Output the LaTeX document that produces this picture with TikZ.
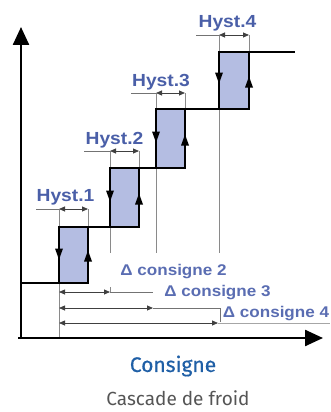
\documentclass[tikz,border=0pt]{standalone}
\usepackage{fontspec}
\usetikzlibrary{arrows.meta}
\newfontfamily\diagf{Liberation Sans}
\newfontfamily\capf{Fira Sans}
\newfontfamily\capfb{Fira Sans}[FakeBold=0.6]
\definecolor{boxfill}{HTML}{B4BDE2}
\definecolor{hystblue}{HTML}{4A5FA8}
\definecolor{deltablue}{HTML}{5A6DB2}
\definecolor{titleblue}{HTML}{1F5FA6}
\definecolor{capgray}{HTML}{555555}
\definecolor{extgray}{HTML}{8A8A8A}
\newcommand\downtri[2]{\fill ({#1-4},{#2-5.5}) -- ({#1+4},{#2-5.5}) -- (#1,{#2+5.5}) -- cycle;}
\newcommand\uptri[2]{\fill ({#1-4},{#2+5.5}) -- ({#1+4},{#2+5.5}) -- (#1,{#2-5.5}) -- cycle;}
\tikzset{
  axis/.style={line width=2.4pt,-{Triangle[length=18pt,width=16pt]}},
  stair/.style={line width=1.8pt},
  hbox/.style={fill=boxfill,draw=black,line width=1.8pt},
  extline/.style={draw=extgray,line width=0.7pt},
  dimline/.style={draw=black!75,line width=0.8pt,{Triangle[length=6pt,width=5pt]}-{Triangle[length=6pt,width=5pt]}},
  leader/.style={draw=black!55,line width=0.7pt},
  hystlab/.style={text=hystblue,font=\diagf\bfseries\fontsize{17.5}{18}\selectfont,inner sep=0pt},
  deltalab/.style={text=deltablue,font=\diagf\bfseries\fontsize{15.5}{16}\selectfont,inner sep=0pt},
}
\begin{document}
\begin{tikzpicture}[x=1pt,y=-1pt]
\useasboundingbox (0,0) rectangle (331,412);
% extension lines
\draw[extline] (59,209) -- (59,338);
\draw[extline] (88,209) -- (88,227);
\draw[extline] (110,151) -- (110,253);
\draw[extline] (139,151) -- (139,168);
\draw[extline] (156,93) -- (156,253);
\draw[extline] (185,93) -- (185,109);
\draw[extline] (219,35) -- (219,253);
\draw[extline] (249,35) -- (249,52);
\draw[extline] (110,287) -- (110,293);
% boxes
\draw[hbox] (59,227) rectangle (88,283);
\draw[hbox] (110,168) rectangle (139,227);
\draw[hbox] (156,109) rectangle (185,168);
\draw[hbox] (219,52) rectangle (249,109);
% staircase
\draw[stair] (21,283) -- (59,283);
\draw[stair] (59,227) -- (139,227);
\draw[stair] (110,168) -- (185,168);
\draw[stair] (156,109) -- (249,109);
\draw[stair] (219,52) -- (295,52);
% direction arrows
\downtri{59}{254}\uptri{88}{256}
\downtri{110}{196}\uptri{139}{199}
\downtri{156}{137}\uptri{185}{140}
\downtri{219}{78}\uptri{249}{82}
% axes
\coordinate (O) at (21,338);
\coordinate (Ytop) at (21,27);
\coordinate (Xend) at (323,338);
\draw[axis] (21,339.2) -- (Ytop);
\draw[axis] (18,338) -- (Xend);
% hysteresis labels and dimension lines
\node[hystlab] (h1) at (65.5,197) {\scalebox{1.1}[1]{Hyst.1}};
\node[hystlab] (h2) at (114.5,140) {\scalebox{1.1}[1]{Hyst.2}};
\node[hystlab] (h3) at (161,82) {\scalebox{1.1}[1]{Hyst.3}};
\node[hystlab] (h4) at (227.5,23) {\scalebox{1.1}[1]{Hyst.4}};
\draw[leader] (36,209) -- (59,209);
\draw[dimline] (59,209) -- (88,209);
\draw[leader] (84,151) -- (110,151);
\draw[dimline] (110,151) -- (139,151);
\draw[leader] (131,93) -- (156,93);
\draw[dimline] (156,93) -- (185,93);
\draw[leader] (196,35) -- (219,35);
\draw[dimline] (219,35) -- (249,35);
% setpoint differences
\draw[dimline] (59,292) -- (110,292);
\draw[leader] (110,292) -- (153,292);
\draw[dimline] (59,308) -- (153,308);
\draw[leader] (153,308) -- (220,308) -- (220,322);
\draw[dimline] (59,323) -- (218,323);
\draw[leader,draw=black!35] (218,323) -- (330,323);
\node[deltalab] (d2) at (173.5,272) {\scalebox{1.1}[1]{Δ consigne 2}};
\node[deltalab] (d3) at (217.5,293) {\scalebox{1.1}[1]{Δ consigne 3}};
\node[deltalab] (d4) at (276,314) {\scalebox{1.1}[1]{Δ consigne 4}};
% captions
\node[text=titleblue,font=\capfb\fontsize{21}{22}\selectfont] (t) at (173,366) {Consigne};
\node[text=capgray,font=\capf\fontsize{19}{21}\selectfont] (c) at (178,398) {Cascade de froid};
\end{tikzpicture}
\end{document}
